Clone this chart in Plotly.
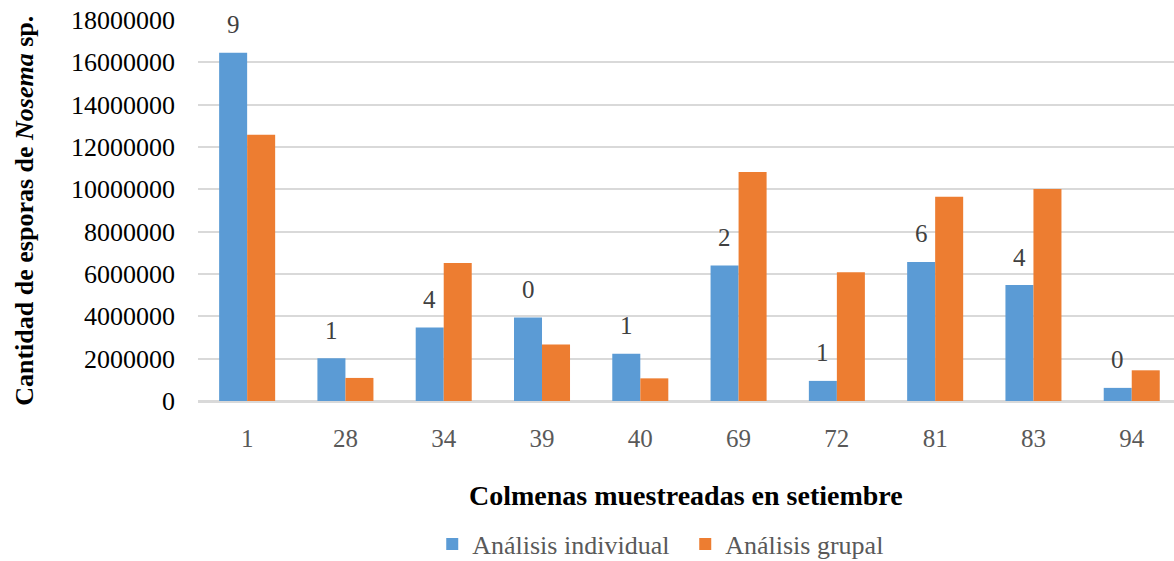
import plotly.graph_objects as go

# Hives sampled in September and spore counts per analysis type
colmenas = ["1", "28", "34", "39", "40", "69", "72", "81", "83", "94"]
individual = [16450000, 2020000, 3470000, 3950000, 2230000, 6400000, 950000, 6570000, 5480000, 620000]
grupal = [12580000, 1090000, 6520000, 2670000, 1070000, 10820000, 6080000, 9650000, 10010000, 1450000]
# Counts shown above the individual-analysis bars
etiquetas = ["9", "1", "4", "0", "1", "2", "1", "6", "4", "0"]

FONT = "Liberation Serif"
AZUL = "#5B9BD5"
NARANJA = "#ED7D31"
GRIS_TXT = "#595959"
GRID = "#D9D9D9"

fig = go.Figure()
fig.add_trace(go.Bar(x=colmenas, y=individual, name="Análisis individual",
                     marker=dict(color=AZUL, line=dict(width=0))))
fig.add_trace(go.Bar(x=colmenas, y=grupal, name="Análisis grupal",
                     marker=dict(color=NARANJA, line=dict(width=0))))

annotations = []
# category axes place annotations by category index
for i, (v, t) in enumerate(zip(individual, etiquetas)):
    annotations.append(dict(x=i, y=v, text=t, xref="x", yref="y", showarrow=False,
                            xshift=-14, yshift=28, yanchor="middle",
                            font=dict(family=FONT, size=25, color="#404040")))

annotations.append(dict(x=0.5, y=-0.248, xref="paper", yref="paper",
                        text="<b>Colmenas muestreadas en setiembre</b>", showarrow=False,
                        xanchor="center", yanchor="middle",
                        font=dict(family=FONT, size=28, color="black")))
annotations.append(dict(x=-0.178, y=0.5, xref="paper", yref="paper",
                        text="<b>Cantidad de esporas de <i>Nosema</i> sp.</b>", showarrow=False,
                        textangle=-90, xanchor="center", yanchor="middle",
                        font=dict(family=FONT, size=26, color="black")))

fig.update_layout(
    width=1174, height=561,
    margin=dict(l=198, r=0, t=20, b=160),
    paper_bgcolor="white", plot_bgcolor="white",
    barmode="group", bargap=0.43, bargroupgap=0,
    font=dict(family=FONT, size=25, color=GRIS_TXT),
    showlegend=True,
    legend=dict(orientation="h", xref="paper", x=0.24, xanchor="left",
                yref="container", y=0.03, yanchor="middle",
                font=dict(family=FONT, size=26, color=GRIS_TXT),
                itemwidth=30, entrywidth=208, tracegroupgap=0,
                bgcolor="rgba(0,0,0,0)"),
    annotations=annotations,
)

fig.update_xaxes(type="category", range=[-0.5, 9.43], showgrid=False,
                 showline=True, linecolor=GRID, linewidth=2,
                 ticks="", ticklabelstandoff=14,
                 tickfont=dict(family=FONT, size=25, color=GRIS_TXT))
fig.update_yaxes(range=[0, 18000000], dtick=2000000, tickformat="d",
                 showgrid=True, gridcolor=GRID, gridwidth=2,
                 zeroline=True, zerolinecolor=GRID, zerolinewidth=2,
                 showline=False, ticks="", ticklabelstandoff=22,
                 tickfont=dict(family=FONT, size=26, color="black"))

fig.write_html("out.html")
